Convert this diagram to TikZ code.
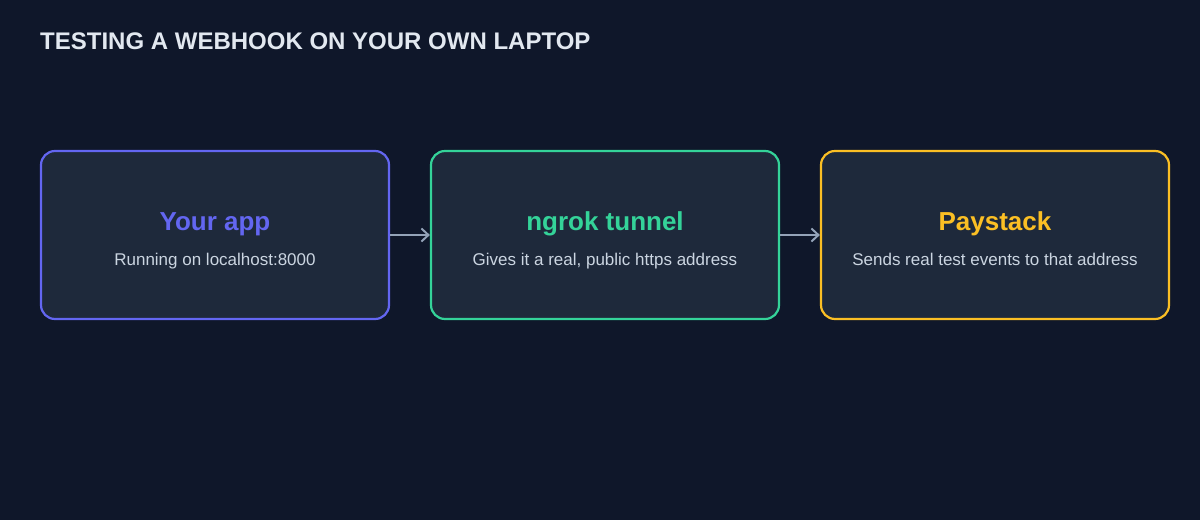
\documentclass[tikz,border=0pt]{standalone}
\usepackage{fontspec}
\setmainfont{Liberation Sans}
\usetikzlibrary{arrows.meta}
\definecolor{bg}{HTML}{0F172A}
\definecolor{boxfill}{HTML}{1E293B}
\definecolor{cpurple}{HTML}{6366F1}
\definecolor{cgreen}{HTML}{34D399}
\definecolor{cyellow}{HTML}{FBBF24}
\definecolor{carrow}{HTML}{94A3B8}
\definecolor{ctitle}{HTML}{E2E8F0}
\definecolor{csub}{HTML}{CBD5E1}
\tikzset{
  card/.style={draw=#1, fill=boxfill, line width=2.2pt, rounded corners=14pt, minimum width=348pt, minimum height=168pt, inner sep=0pt},
  cardtitle/.style={anchor=base, text=#1, font=\fontsize{26}{30}\selectfont\bfseries},
  cardsub/.style={anchor=base, text=csub, font=\fontsize{17}{20}\selectfont},
  flow/.style={draw=carrow, line width=2.4pt, -{Straight Barb[length=7pt,width=13pt,line width=2pt]}}
}
\begin{document}
\begin{tikzpicture}[x=1pt,y=-1pt]
\fill[bg] (0,0) rectangle (1200,520);
\useasboundingbox (0,0) rectangle (1200,520);
\node[anchor=base west, text=ctitle, font=\fontsize{24}{28}\selectfont\bfseries, inner sep=0pt] (title) at (40,49) {TESTING A WEBHOOK ON YOUR OWN LAPTOP};
\node[card=cpurple] (app) at (215,235) {};
\node[card=cgreen] (ngrok) at (605,235) {};
\node[card=cyellow] (pay) at (995,235) {};
\node[cardtitle=cpurple] (appt) at (215,230) {Your app};
\node[cardsub] (apps) at (215,265) {Running on localhost:8000};
\node[cardtitle=cgreen] (ngrokt) at (605,230) {ngrok tunnel};
\node[cardsub] (ngroks) at (605,265) {Gives it a real, public https address};
\node[cardtitle=cyellow] (payt) at (995,230) {Paystack};
\node[cardsub] (pays) at (995,265) {Sends real test events to that address};
\draw[flow] (app.east) -- (ngrok.west);
\draw[flow] (ngrok.east) -- (pay.west);
\end{tikzpicture}
\end{document}
